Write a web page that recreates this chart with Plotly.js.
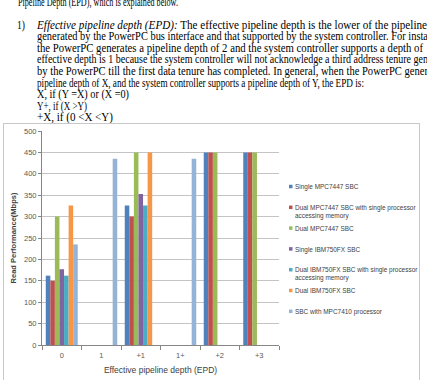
<!DOCTYPE html>
<html>
<head>
<meta charset="utf-8">
<script src="https://cdn.plot.ly/plotly-3.0.1.min.js"></script>
<style>
  html, body { margin:0; padding:0; width:427px; height:380px; overflow:hidden; background:#fff; }
  .ln { position:absolute; white-space:nowrap; font-family:"Liberation Serif", serif; font-size:11.5px; color:#000; line-height:11px; height:11px; transform-origin:0 50%; }
  #box { position:absolute; left:3px; top:123px; width:415px; height:270px; border:1px solid #c8c8c8; border-bottom:none; background:#fff; }
  #chart { width:415px; height:262px; }
</style>
</head>
<body>
<div id="text"></div>
<div id="box"><div id="chart"></div></div>
<script>
// ---- data ----
const categories = ["0", "1", "+1", "1+", "+2", "+3"];
const seriesNames = [
  "Single MPC7447 SBC",
  "Dual MPC7447 SBC with single processor<br>accessing memory",
  "Dual MPC7447 SBC",
  "Single IBM750FX SBC",
  "Dual IBM750FX SBC with single processor<br>accessing memory",
  "Dual IBM750FX SBC",
  "SBC with MPC7410 processor"
];
const singleMPC7447      = [162, null, 326, null, 450, 450];
const dualMPC7447Single  = [150, null, 300, null, 450, 450];
const dualMPC7447        = [300, null, 450, null, 450, 450];
const singleIBM750FX     = [177, null, 353, null, null, null];
const dualIBM750FXSingle = [162, null, 326, null, null, null];
const dualIBM750FX       = [326, null, 450, null, null, null];
const sbcMPC7410         = [235, 435, null, 435, null, null];
const seriesValues = [singleMPC7447, dualMPC7447Single, dualMPC7447, singleIBM750FX, dualIBM750FXSingle, dualIBM750FX, sbcMPC7410];
const yTicks = [0, 50, 100, 150, 200, 250, 300, 350, 400, 450, 500];
const xTitle = "Effective pipeline depth (EPD)";
const yTitle = "Read Performance(Mbps)";

// ---- document text above the chart ----
const textLines = [
  {x:18, c:2.5, end:178, html:"Pipeline Depth (EPD), which is explained below."},
  {x:17, c:25, end:25, html:"1)"},
  {x:37, c:25, end:427, html:"<i>Effective pipeline depth (EPD):</i> The effective pipeline depth is the lower of the pipeline"},
  {x:37, c:36.6, end:428, html:"generated by the PowerPC bus interface and that supported by the system controller. For insta"},
  {x:37, c:48.2, end:423, html:"the PowerPC generates a pipeline depth of 2 and the system controller supports a depth of"},
  {x:37, c:59.8, end:428, html:"effective depth is 1 because the system controller will not acknowledge a third address tenure gen"},
  {x:37, c:71.4, end:428, html:"by the PowerPC till the first data tenure has completed. In general, when the PowerPC gener"},
  {x:37, c:83, end:364, html:"pipeline depth of X, and the system controller supports a pipeline depth of Y, the EPD is:"},
  {x:37, c:94.6, end:129, html:"X, if (Y =X) or (X =0)"},
  {x:37, c:106.2, end:87, html:"Y+, if (X >Y)"},
  {x:37, c:117.6, end:113, html:"+X, if (0 &lt;X &lt;Y)"}
];
const tc = document.getElementById('text');
textLines.forEach(l => {
  const d = document.createElement('div');
  d.className = 'ln';
  d.style.left = l.x + 'px';
  d.style.top = (l.c - 5.5) + 'px';
  d.innerHTML = l.html;
  tc.appendChild(d);
  const w = d.getBoundingClientRect().width;
  d.style.transform = 'scaleX(' + ((l.end - l.x) / w) + ')';
});

// ---- chart ----
const colors = ["#4F81BD", "#C0504D", "#9BBB59", "#8064A2", "#4BACC6", "#F79646", "#95B3D7"];
const traces = seriesValues.map((vals, i) => ({
  type: 'bar',
  name: seriesNames[i],
  x: categories,
  y: vals,
  marker: {color: colors[i], line: {width: 0}},
  showlegend: false
}));

const plotW = 237, plotH = 214;
const shapes = [], annotations = [];
seriesNames.forEach((n, i) => {
  const cy = 55.5 + 20.8 * i;           // pixel offset of item centre below plot top
  const py = 1 - cy / plotH;
  const px = (289 - 42) / plotW;
  shapes.push({type:'rect', xref:'paper', yref:'paper',
    x0:px, x1:px + 3.5/plotW, y0:py - 1.75/plotH, y1:py + 1.75/plotH,
    fillcolor:colors[i], line:{width:0}});
  annotations.push({xref:'paper', yref:'paper', x:px + 4/plotW, y:py + 5.4/plotH,
    xanchor:'left', yanchor:'top', align:'left', showarrow:false, text:n,
    font:{size:6.45, color:'#404040', family:'Liberation Sans, Arial, sans-serif'}});
});

const layout = {
  width: 415, height: 262,
  margin: {l: 38, r: 140, t: 7, b: 41},
  paper_bgcolor: '#fff', plot_bgcolor: '#fff',
  font: {family: 'Liberation Sans, Arial, sans-serif', size: 8, color: '#595959'},
  barmode: 'group', bargap: 0.19, bargroupgap: 0,
  xaxis: {
    type: 'category', showline: true, linecolor: '#868686', linewidth: 1,
    ticks: 'outside', tickson: 'boundaries', ticklen: 4, tickcolor: '#868686',
    ticklabelstandoff: 3,
    showgrid: false, tickfont: {size: 7.5, color: '#595959'},
    title: {text: xTitle, font: {size: 8.5, color: '#404040'}, standoff: 8}
  },
  yaxis: {
    range: [0, 500], tickvals: yTicks, showline: true, linecolor: '#868686',
    ticks: 'outside', ticklen: 3, tickcolor: '#868686',
    showgrid: true, gridcolor: '#c4c4c4', zeroline: false,
    tickfont: {size: 7.5, color: '#595959'},
    title: {text: '<b>' + yTitle + '</b>', font: {size: 7.5, color: '#404040'}, standoff: 6}
  },
  shapes: shapes,
  annotations: annotations
};
Plotly.newPlot('chart', traces, layout, {staticPlot: true, displayModeBar: false});
</script>
</body>
</html>
